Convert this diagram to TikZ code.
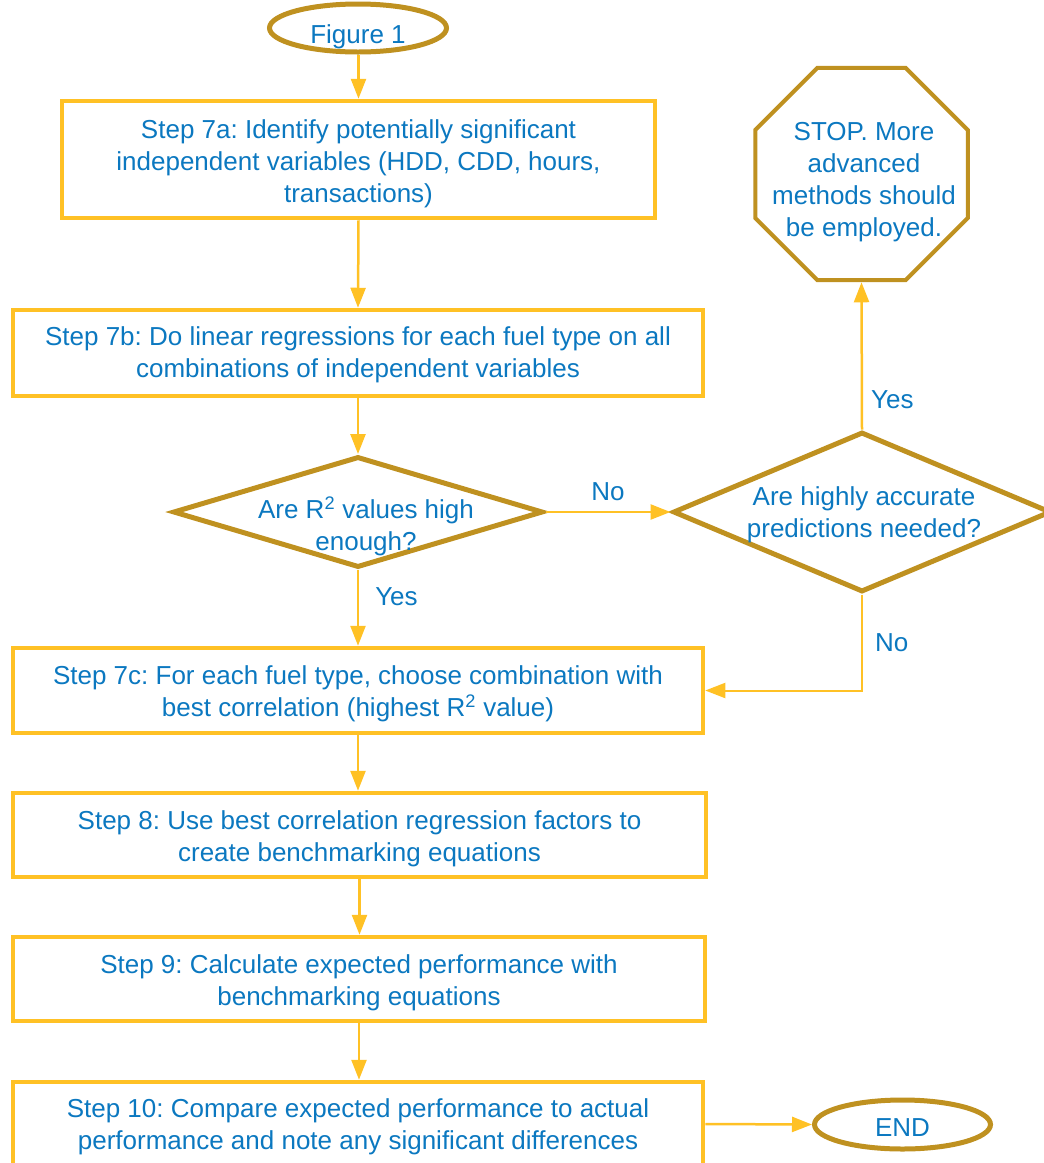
\documentclass[tikz,border=0pt]{standalone}
\usepackage{fontspec}
\setmainfont{Liberation Sans}
\usetikzlibrary{shapes.geometric,arrows.meta}
\definecolor{boxgold}{HTML}{FFC125}
\definecolor{darkgold}{HTML}{BF9120}
\definecolor{txtblue}{HTML}{0B78C0}
\frenchspacing
\newcommand\tup[1]{\rule{0pt}{#1}}
\begin{document}
\begin{tikzpicture}[x=1pt,y=-1pt,
  every node/.style={font=\fontsize{26}{32}\selectfont, text=txtblue, align=center},
  stepbox/.style={draw=boxgold, line width=4.5pt, rectangle, inner sep=0pt},
  termshape/.style={draw=darkgold, line width=5pt, ellipse, inner sep=0pt},
  decshape/.style={draw=darkgold, line width=5pt, diamond, inner sep=0pt},
  octshape/.style={draw=darkgold, line width=4pt, regular polygon, regular polygon sides=8, inner sep=0pt, minimum size=230pt},
  conn/.style={draw=boxgold, line width=2.5pt, -{Triangle[length=20pt,width=15pt]}},
  lbl/.style={inner sep=0pt}
]
\useasboundingbox (0,0) rectangle (1044,1163);

\node[termshape, minimum width=177pt, minimum height=48pt, text height=30.6pt, text depth=0pt] (fig) at (358,28) {Figure 1};

\node[stepbox, minimum width=593pt, minimum height=117pt] (b7a) at (358.5,159.5)
  {\tup{27pt}Step 7a: Identify potentially significant\\independent variables (HDD, CDD, hours,\\transactions)};

\node[stepbox, minimum width=690pt, minimum height=86pt] (b7b) at (358,353)
  {\tup{23pt}Step 7b: Do linear regressions for each fuel type on all\\combinations of independent variables};

\node[decshape, minimum width=370pt, minimum height=111pt] (d1) at (358,512) {};
\node[lbl] (d1t) at (366,526) {Are R\textsuperscript{2} values high\\enough?};

\node[decshape, minimum width=378pt, minimum height=160pt] (d2) at (862,512) {};
\node[lbl] (d2t) at (864,515) {Are highly accurate\\predictions needed?};

\node[octshape] (stop) at (861.5,174) {};
\node[lbl] (stopt) at (864,182) {STOP. More\\advanced\\methods should\\be employed.};

\node[stepbox, minimum width=690pt, minimum height=85pt] (b7c) at (358,690.5)
  {\tup{25pt}Step 7c: For each fuel type, choose combination with\\best correlation (highest R\textsuperscript{2} value)};

\node[stepbox, minimum width=693pt, minimum height=84pt] (b8) at (359.5,835)
  {\tup{26pt}Step 8: Use best correlation regression factors to\\create benchmarking equations};

\node[stepbox, minimum width=692pt, minimum height=84pt] (b9) at (359,979)
  {\tup{27pt}Step 9: Calculate expected performance with\\benchmarking equations};

\node[stepbox, minimum width=690pt, minimum height=84pt] (b10) at (358,1124)
  {\tup{25pt}Step 10: Compare expected performance to actual\\performance and note any significant differences};

\node[termshape, minimum width=176pt, minimum height=49pt, text height=23.6pt, text depth=0pt] (end) at (902.5,1124.5) {END};

% connectors
\draw[conn] (fig.south -| b7a.north) -- (b7a.north);
\draw[conn] (b7a.south) -- (b7b.north);
\draw[conn] (b7b.south) -- (d1.north);
\draw[conn] (d1.east) -- node[lbl, above=10pt] (no1) {No} (d2.west);
\draw[conn] (d1.south) -- node[lbl, pos=0.35, right=16pt] (yes1) {Yes} (b7c.north);
\draw[conn] (d2.north) -- node[lbl, pos=0.2, right=8pt] (yes2) {Yes} (stop.south);
\draw[conn, line width=2pt] (d2.south) |- node[lbl, pos=0.25, right=12pt] (no2) {No} (b7c.east);
\draw[conn] (b7c.south) -- (b7c.south |- b8.north);
\draw[conn] (b8.south) -- (b8.south |- b9.north);
\draw[conn] (b9.south) -- (b9.south |- b10.north);
\draw[conn] (b10.east) -- (end.west);
\end{tikzpicture}
\end{document}
